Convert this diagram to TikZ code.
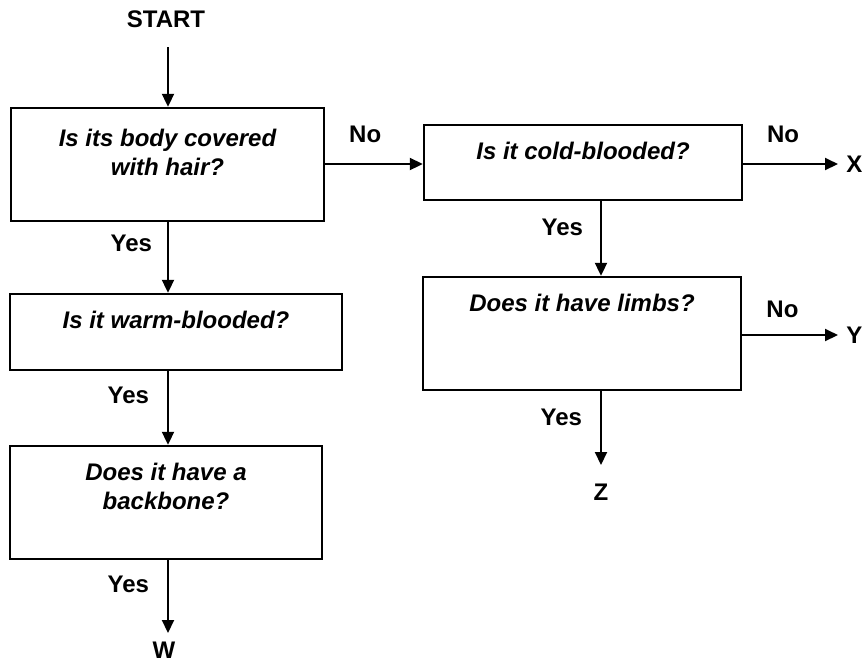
\documentclass[tikz,border=0pt]{standalone}
\usepackage{fontspec}
\setmainfont{Liberation Sans}
\usepackage{tikz}
\usetikzlibrary{positioning, arrows.meta}

\begin{document}
\begin{tikzpicture}[
        x=0.5pt, y=-0.5pt,
        >={Triangle[length=6.5pt, width=6pt]},
        qbox/.style={draw, line width=1.2pt, inner sep=0pt},
        qtext/.style={anchor=north, align=center, inner sep=0pt, font=\fontsize{12}{14.5}\selectfont\bfseries\itshape, yshift=-9pt},
        lbl/.style={font=\fontsize{12}{14}\selectfont\bfseries, inner sep=0pt},
        flow/.style={->, line width=1pt}
    ]

    \useasboundingbox (0,0) rectangle (864,661);

    % Left column
    \node[lbl] (start) at (166,19) {START};
    \node[qbox, minimum width=156.5pt, minimum height=56.5pt] (hair) at (167.5,164.5) {};
    \node[qtext, yshift=-2pt] (hairtxt) at (hair.north) {Is its body covered\\with hair?};
    \node[qbox, minimum width=166pt, minimum height=38pt] (warm) at (176,332) {};
    \node[qtext] (warmtxt) at (warm.north) {Is it warm-blooded?};
    \node[qbox, minimum width=156pt, minimum height=56.5pt] (backbone) at (166,502.5) {};
    \node[qtext] (backtxt) at (backbone.north) {Does it have a\\backbone?};
    \node[lbl] (w) at (164,650) {W};

    % Right column
    \node[qbox, minimum width=159pt, minimum height=37.5pt] (cold) at (583,162.5) {};
    \node[qtext] (coldtxt) at (cold.north) {Is it cold-blooded?};
    \node[qbox, minimum width=159pt, minimum height=56.5pt] (limbs) at (582,333.5) {};
    \node[qtext] (limbstxt) at (limbs.north) {Does it have limbs?};
    \node[lbl] (z) at (601,492) {Z};
    \node[lbl, anchor=west] (x) at (846,164) {X};
    \node[lbl, anchor=west] (y) at (846,335) {Y};

    % Helper points
    \coordinate (startend) at (168,47);
    \coordinate (wend) at (168,633);
    \coordinate (zend) at (601,465);
    \coordinate (xend) at (838,164);
    \coordinate (yend) at (838,335);

    % Connections
    \draw[flow] (startend) -- (startend |- hair.north);
    \draw[flow] (startend |- hair.south) -- (startend |- warm.north)
        node[lbl, pos=0.3, left=7.5pt] {Yes};
    \draw[flow] (startend |- warm.south) -- (startend |- backbone.north)
        node[lbl, pos=0.33, left=9pt] {Yes};
    \draw[flow] (startend |- backbone.south) -- (wend)
        node[lbl, pos=0.33, left=9pt] {Yes};
    \draw[flow] (hair.east |- xend) -- (cold.west |- xend)
        node[lbl, pos=0.41, above=10pt] {No};
    \draw[flow] (cold.east |- xend) -- (xend)
        node[lbl, pos=0.42, above=10pt] {No};
    \draw[flow] (zend |- cold.south) -- (zend |- limbs.north)
        node[lbl, pos=0.35, left=8.5pt] {Yes};
    \draw[flow] (limbs.east |- yend) -- (yend)
        node[lbl, pos=0.42, above=8pt] {No};
    \draw[flow] (zend |- limbs.south) -- (zend)
        node[lbl, pos=0.35, left=9pt] {Yes};

\end{tikzpicture}
\end{document}
